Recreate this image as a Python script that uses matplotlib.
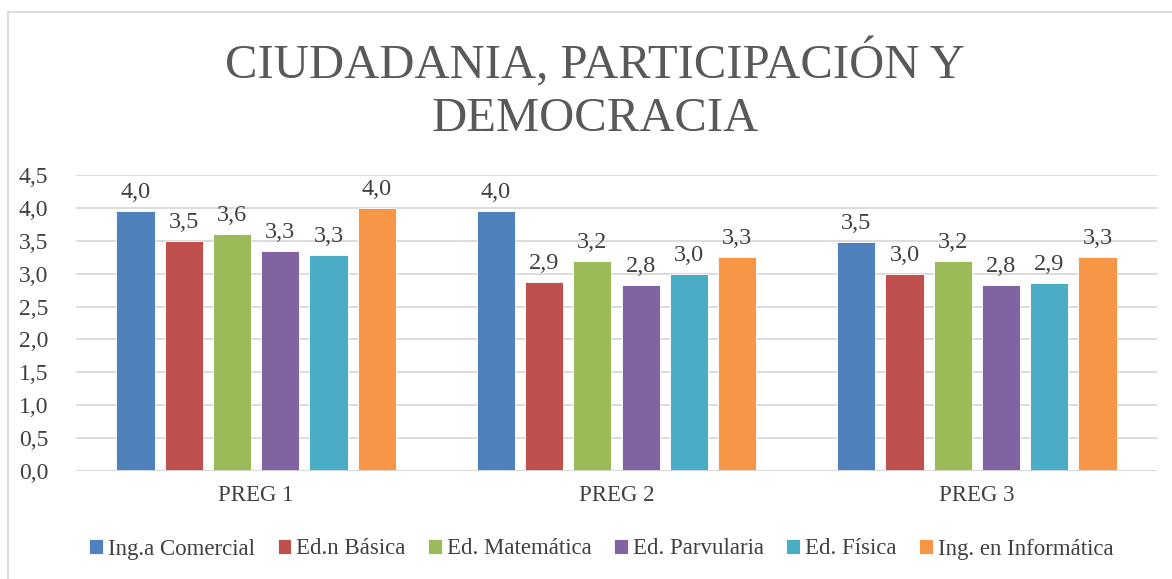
import matplotlib
matplotlib.use("Agg")
import matplotlib.pyplot as plt
import numpy as np
from matplotlib.lines import Line2D
from matplotlib.font_manager import FontProperties

plt.rcParams['font.family'] = ['Liberation Serif', 'DejaVu Serif']

categories = ["PREG 1", "PREG 2", "PREG 3"]
series_names = ["Ing.a Comercial", "Ed.n Básica", "Ed. Matemática",
                "Ed. Parvularia", "Ed. Física", "Ing. en Informática"]
ing_comercial = [3.96, 3.96, 3.48]
ed_basica = [3.50, 2.88, 3.00]
ed_matematica = [3.60, 3.20, 3.20]
ed_parvularia = [3.34, 2.83, 2.83]
ed_fisica = [3.29, 3.00, 2.86]
ing_informatica = [4.00, 3.26, 3.26]
series_values = [ing_comercial, ed_basica, ed_matematica, ed_parvularia, ed_fisica, ing_informatica]
colors = ["#4F81BD", "#C0504D", "#9BBB59", "#8064A2", "#4BACC6", "#F79646"]
yticks = [0.0, 0.5, 1.0, 1.5, 2.0, 2.5, 3.0, 3.5, 4.0, 4.5]

text_color = "#404040"
W, H = 1172, 579
fig = plt.figure(figsize=(W/100, H/100), dpi=100)
ax = fig.add_axes([76/W, 1-471/H, (1157-76)/W, (471-175)/H])

x = np.arange(len(categories))
step = 0.134
width = 0.106
for i, (name, vals, c) in enumerate(zip(series_names, series_values, colors)):
    pos = x + (i - 2.5) * step
    bars = ax.bar(pos, vals, width=width, color=c, label=name, zorder=3,
                  edgecolor='white', linewidth=0.6)
    for b, v in zip(bars, vals):
        ax.text(b.get_x() + b.get_width()/2, v + 0.12, f"{v:.1f}".replace('.', ','),
                ha='center', va='bottom', fontsize=17.5, color=text_color)

ax.set_xlim(-0.5, 2.5)
ax.set_ylim(0, 4.5)
ax.set_yticks(yticks)
ax.set_yticklabels([f"{t:.1f}".replace('.', ',') for t in yticks], fontsize=17, color=text_color)
ax.set_xticks(x)
ax.set_xticklabels(categories, fontsize=16.5, color=text_color)
ax.tick_params(axis='x', length=0, pad=10)
ax.tick_params(axis='y', length=0, pad=20)
ax.grid(axis='y', color='#D9D9D9', linewidth=1.3, zorder=0)
for s in ax.spines.values():
    s.set_visible(False)
ax.axhline(0, color='#D9D9D9', linewidth=1.3, zorder=4)

fig.text(0.508, 1-63/H, "CIUDADANIA, PARTICIPACIÓN Y", ha='center', va='center',
         fontsize=35, color="#595959")
fig.text(0.508, 1-119/H, "DEMOCRACIA", ha='center', va='center',
         fontsize=35, color="#595959")

leg = fig.legend(loc='center', bbox_to_anchor=(0.513, 1-549/H), ncol=6, frameon=False,
                 prop=FontProperties(family='Liberation Serif', size=16.5),
                 handlelength=0.6, handleheight=0.6, handletextpad=0.2,
                 columnspacing=1.0, labelcolor=text_color)

# chart frame (top and left edges visible)
fig.add_artist(Line2D([8/W, 1], [1-11.5/H, 1-11.5/H], transform=fig.transFigure,
                      color='#D9D9D9', linewidth=1.3))
fig.add_artist(Line2D([8/W, 8/W], [0, 1-11.5/H], transform=fig.transFigure,
                      color='#D9D9D9', linewidth=1.3))

fig.savefig("out.png", dpi=100)
